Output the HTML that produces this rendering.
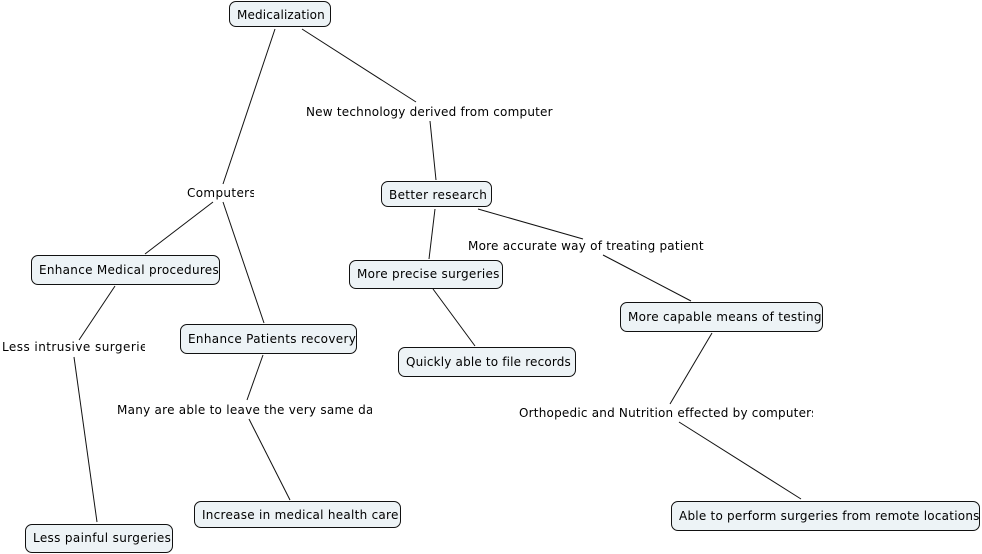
<!DOCTYPE html>
<html>
<head>
<meta charset="utf-8">
<style>
html,body{margin:0;padding:0;background:#fff;}
#c{position:relative;width:982px;height:554px;overflow:hidden;background:#fff;font-family:"DejaVu Sans",sans-serif;font-size:12px;letter-spacing:.21px;color:#000;}
svg{position:absolute;left:0;top:0;}
.n{position:absolute;box-sizing:border-box;background:#edf3f6;border:1px solid #111;border-radius:7px;white-space:nowrap;overflow:hidden;padding-left:7px;}
.l{position:absolute;white-space:nowrap;overflow:hidden;height:16px;line-height:16px;}
</style>
</head>
<body>
<div id="c">
<svg width="982" height="554" stroke="#111" stroke-width="1" fill="none">
<line x1="275" y1="29" x2="223" y2="184"/>
<line x1="302" y1="29" x2="416" y2="102"/>
<line x1="430" y1="121" x2="436" y2="180"/>
<line x1="213" y1="202" x2="145" y2="254"/>
<line x1="223" y1="202" x2="264" y2="323"/>
<line x1="435" y1="209" x2="429" y2="259"/>
<line x1="478" y1="209" x2="583" y2="239"/>
<line x1="603" y1="255" x2="691" y2="301"/>
<line x1="433" y1="289" x2="475" y2="346"/>
<line x1="115" y1="286" x2="79" y2="340"/>
<line x1="74" y1="357" x2="97" y2="522"/>
<line x1="263" y1="355" x2="247" y2="400"/>
<line x1="249" y1="419" x2="290" y2="500"/>
<line x1="712" y1="333" x2="670" y2="404"/>
<line x1="679" y1="422" x2="801" y2="499"/>
</svg>

<div class="n" style="left:229px;top:1px;width:102px;height:26px;line-height:26px;letter-spacing:.14px;">Medicalization</div>
<div class="n" style="left:381px;top:181px;width:111px;height:26px;line-height:26px;letter-spacing:.34px;">Better research</div>
<div class="n" style="left:31px;top:255px;width:189px;height:30px;line-height:28px;letter-spacing:.29px;">Enhance Medical procedures</div>
<div class="n" style="left:180px;top:324px;width:177px;height:30px;line-height:28px;letter-spacing:.33px;">Enhance Patients recovery</div>
<div class="n" style="left:349px;top:260px;width:154px;height:29px;line-height:27px;letter-spacing:.30px;">More precise surgeries</div>
<div class="n" style="left:620px;top:302px;width:203px;height:30px;line-height:28px;letter-spacing:.28px;">More capable means of testing</div>
<div class="n" style="left:398px;top:347px;width:178px;height:30px;line-height:28px;letter-spacing:.17px;">Quickly able to file records</div>
<div class="n" style="left:194px;top:501px;width:207px;height:27px;line-height:26px;letter-spacing:.27px;">Increase in medical health care</div>
<div class="n" style="left:25px;top:524px;width:148px;height:29px;line-height:27px;letter-spacing:.35px;">Less painful surgeries</div>
<div class="n" style="left:671px;top:501px;width:309px;height:30px;line-height:28px;letter-spacing:.23px;">Able to perform surgeries from remote locations</div>

<div class="l" style="left:306px;top:104px;width:248px;">New technology derived from computer</div>
<div class="l" style="left:187px;top:185px;width:67px;letter-spacing:.35px;">Computers</div>
<div class="l" style="left:468px;top:238px;width:236px;letter-spacing:.23px;">More accurate way of treating patients</div>
<div class="l" style="left:2px;top:339px;width:143px;letter-spacing:.45px;">Less intrusive surgeries</div>
<div class="l" style="left:117px;top:402px;width:255px;letter-spacing:.26px;">Many are able to leave the very same day</div>
<div class="l" style="left:519px;top:405px;width:294px;">Orthopedic and Nutrition effected by computers</div>
</div>
</body>
</html>
